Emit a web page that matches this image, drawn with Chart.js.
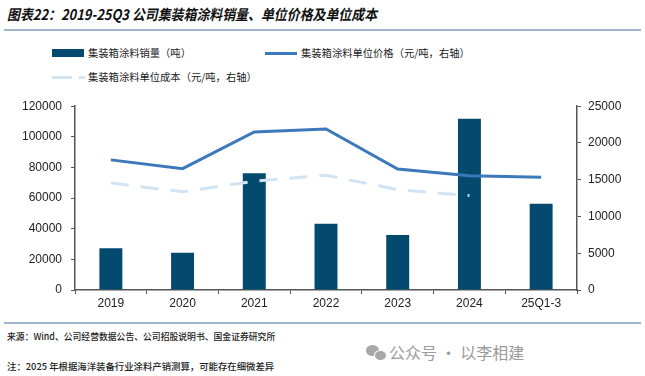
<!DOCTYPE html>
<html>
<head>
<meta charset="utf-8">
<script src="https://cdn.jsdelivr.net/npm/chart.js@4.4.0/dist/chart.umd.min.js"></script>
<style>
  body { margin: 0; width: 645px; height: 376px; background: #fff; position: relative; overflow: hidden;
         font-family: "Noto Sans CJK SC", "Liberation Sans", sans-serif; color: #222; }
  .title { position: absolute; left: 7px; top: 3px; font-size: 14.5px; font-weight: bold; font-style: italic; color: #111;
           white-space: nowrap; transform: scaleX(0.89); transform-origin: left top; }
  .hline { position: absolute; left: 4px; width: 637px; height: 1.5px; background: #9fb6cc; }
  .lg { position: absolute; font-size: 10.3px; color: #222; white-space: nowrap; }
  .sw { position: absolute; }
  .src { position: absolute; left: 7px; font-size: 9.4px; font-weight: 500; color: #222; white-space: nowrap;
         transform-origin: left top; }
  .wm { position: absolute; left: 389px; top: 340px; font-size: 16px; color: #9a9a9a; white-space: nowrap; }
  #wrap { position: absolute; left: 0; top: 90px; width: 645px; height: 230px; }
</style>
</head>
<body>
<div class="title">图表22：2019-25Q3 公司集装箱涂料销量、单位价格及单位成本</div>
<div class="hline" style="top:29px"></div>

<div class="sw" style="left:52px;top:49px;width:32px;height:8px;background:#044a6e"></div>
<div class="lg" style="left:88px;top:45px">集装箱涂料销量（吨）</div>
<div class="sw" style="left:265px;top:52px;width:32px;height:3px;background:#3b79bb"></div>
<div class="lg" style="left:301px;top:45px">集装箱涂料单位价格（元/吨，右轴）</div>
<div class="sw" style="left:52px;top:76px;width:20px;height:3px;background:#d2e3f3"></div>
<div class="sw" style="left:79px;top:76px;width:6px;height:3px;background:#d2e3f3"></div>
<div class="lg" style="left:88px;top:69px">集装箱涂料单位成本（元/吨，右轴）</div>

<div id="wrap"><canvas id="graf"></canvas></div>

<div class="hline" style="top:322px"></div>
<div class="src" style="top:329px;transform:scaleX(0.94)">来源：Wind、公司经营数据公告、公司招股说明书、国金证券研究所</div>
<div class="src" style="top:359px">注：2025 年根据海洋装备行业涂料产销测算，可能存在细微差异</div>
<div style="position:absolute;left:366px;top:345px;width:13px;height:11px;border-radius:50%;background:#a8a8a8"></div>
<div style="position:absolute;left:374px;top:350px;width:11px;height:9px;border-radius:50%;background:#a8a8a8;border:1px solid #fff"></div>
<div class="wm">公众号 · 以李相建</div>

<script>
const categorias = ['2019', '2020', '2021', '2022', '2023', '2024', '25Q1-3'];
const volume = [27300, 24300, 76300, 43200, 35900, 111800, 56300];
const preco = [17700, 16500, 21500, 21900, 16450, 15550, 15350];
const custo = [14550, 13350, 14800, 15600, 13650, 12850, null];
const ticksEsq = [0, 20000, 40000, 60000, 80000, 100000, 120000];
const ticksDir = [0, 5000, 10000, 15000, 20000, 25000];

const fonteTick = { family: '"Liberation Sans", Arial, sans-serif', size: 12 };
const eixoCor = '#555';

new Chart(document.getElementById('graf'), {
    type: 'bar',
    data: {
        labels: categorias,
        datasets: [
            {
                type: 'line',
                label: '集装箱涂料单位价格（元/吨，右轴）',
                data: preco,
                yAxisID: 'y2',
                borderColor: '#3b79bb',
                borderWidth: 3,
                pointRadius: 0,
                tension: 0,
                order: 1
            },
            {
                type: 'line',
                label: '集装箱涂料单位成本（元/吨，右轴）',
                data: custo,
                yAxisID: 'y2',
                borderColor: '#d2e3f3',
                borderWidth: 3,
                borderDash: [18, 12],
                pointRadius: 0,
                tension: 0,
                order: 2
            },
            {
                label: '集装箱涂料销量（吨）',
                data: volume,
                yAxisID: 'y',
                backgroundColor: '#044a6e',
                barPercentage: 0.32,
                categoryPercentage: 1,
                order: 3
            }
        ]
    },
    options: {
        responsive: true,
        maintainAspectRatio: false,
        animation: false,
        layout: { padding: { top: 14, left: 0, right: 0, bottom: 0 } },
        plugins: { legend: { display: false }, tooltip: { enabled: false } },
        scales: {
            x: {
                grid: { drawOnChartArea: false, drawTicks: true, tickLength: 4, color: eixoCor, offset: true },
                border: { color: eixoCor, width: 1.5 },
                ticks: { color: '#222', font: fonteTick, padding: 2, maxRotation: 0 },
                afterFit: function(s) { s.height = 30; }
            },
            y: {
                position: 'left',
                min: 0, max: 120000,
                afterBuildTicks: function(s) { s.ticks = ticksEsq.map(v => ({ value: v })); },
                grid: { drawOnChartArea: false, drawTicks: true, tickLength: 4, color: eixoCor },
                border: { color: eixoCor, width: 1.5 },
                ticks: { color: '#222', font: fonteTick, padding: 9, callback: v => String(v) },
                afterFit: function(s) { s.width = 75; }
            },
            y2: {
                position: 'right',
                min: 0, max: 25000,
                afterBuildTicks: function(s) { s.ticks = ticksDir.map(v => ({ value: v })); },
                grid: { drawOnChartArea: false, drawTicks: true, tickLength: 4, color: eixoCor },
                border: { color: eixoCor, width: 1.5 },
                ticks: { color: '#222', font: fonteTick, padding: 7, callback: v => String(v) },
                afterFit: function(s) { s.width = 68; }
            }
        }
    }
});
</script>
</body>
</html>
